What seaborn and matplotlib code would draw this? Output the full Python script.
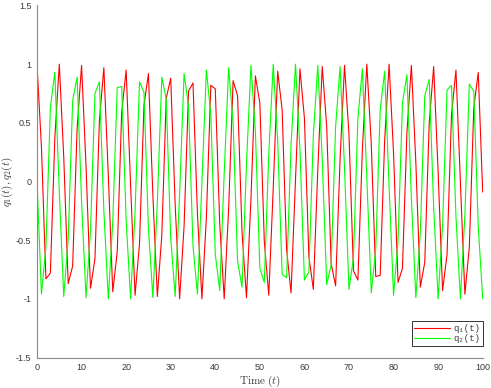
import numpy as np
import pandas as pd
import matplotlib
matplotlib.use("Agg")
import matplotlib.pyplot as plt
import seaborn as sns
from matplotlib.lines import Line2D

# ---- data ----
t = list(range(0, 101))
q1 = [1.00, 0.29, -0.83, -0.78, 0.37, 1.00, 0.21, -0.87, -0.72, 0.45,
      0.99, 0.13, -0.91, -0.66, 0.52, 0.97, 0.05, -0.94, -0.60, 0.59,
      0.95, -0.03, -0.97, -0.53, 0.65, 0.92, -0.12, -0.98, -0.46, 0.71,
      0.88, -0.20, -1.00, -0.38, 0.77, 0.84, -0.28, -1.00, -0.31, 0.82,
      0.79, -0.36, -1.00, -0.23, 0.86, 0.73, -0.43, -0.99, -0.15, 0.90,
      0.67, -0.51, -0.97, -0.06, 0.94, 0.61, -0.58, -0.95, 0.02, 0.96,
      0.54, -0.64, -0.92, 0.10, 0.98, 0.47, -0.70, -0.89, 0.19, 0.99,
      0.40, -0.76, -0.84, 0.27, 1.00, 0.32, -0.81, -0.80, 0.35, 1.00,
      0.24, -0.86, -0.74, 0.42, 0.99, 0.16, -0.90, -0.69, 0.50, 0.98,
      0.08, -0.93, -0.62, 0.57, 0.95, -0.01, -0.96, -0.56, 0.63, 0.93,
      -0.09]
q2 = [0.00, -0.96, -0.56, 0.63, 0.93, -0.08, -0.98, -0.49, 0.69, 0.89,
      -0.17, -0.99, -0.42, 0.75, 0.85, -0.25, -1.00, -0.34, 0.80, 0.81,
      -0.33, -1.00, -0.26, 0.85, 0.76, -0.40, -0.99, -0.18, 0.89, 0.70,
      -0.48, -0.98, -0.10, 0.92, 0.64, -0.55, -0.96, -0.01, 0.95, 0.57,
      -0.62, -0.93, 0.07, 0.97, 0.50, -0.68, -0.90, 0.15, 0.99, 0.43,
      -0.74, -0.86, 0.23, 1.00, 0.35, -0.79, -0.82, 0.31, 1.00, 0.27,
      -0.84, -0.77, 0.39, 0.99, 0.19, -0.88, -0.71, 0.47, 0.98, 0.11,
      -0.92, -0.65, 0.54, 0.96, 0.03, -0.95, -0.58, 0.61, 0.94, -0.05,
      -0.97, -0.51, 0.67, 0.91, -0.14, -0.99, -0.44, 0.73, 0.87, -0.22,
      -1.00, -0.37, 0.78, 0.82, -0.30, -1.00, -0.29, 0.83, 0.77, -0.38,
      -1.00]
series_names = ["q1", "q2"]
series_labels = ["q\u2081(t)", "q\u2082(t)"]
colors = {"q1": "#ff0000", "q2": "#00ff00"}
xticks = list(range(0, 101, 10))
yticks = [-1.5, -1, -0.5, 0, 0.5, 1, 1.5]
ytick_labels = ["-1.5", "-1", "-0.5", "0", "0.5", "1", "1.5"]

df = pd.concat([
    pd.DataFrame({"t": t, "value": q1, "series": "q1"}),
    pd.DataFrame({"t": t, "value": q2, "series": "q2"}),
], ignore_index=True)

sns.set_style("white")
plt.rcParams["font.family"] = ["Liberation Sans", "DejaVu Sans"]
plt.rcParams["mathtext.fontset"] = "cm"

W, H = 491, 388
top_px, bot_px, left_px, right_px = 5.5, 357.5, 37, 482.7
fig = plt.figure(figsize=(W / 100, H / 100), dpi=100)
fig.patch.set_facecolor("white")
ax = fig.add_axes([left_px / W, 1 - bot_px / H, (right_px - left_px) / W,
                   (bot_px - top_px) / H])

sns.lineplot(data=df, x="t", y="value", hue="series", palette=colors,
             hue_order=series_names, estimator=None, sort=False,
             linewidth=0.8, ax=ax, legend=False)

ax.set_xlim(0, 100)
ax.set_ylim(-1.5, 1.5)
ax.set_xticks(xticks)
ax.set_xticklabels([str(x) for x in xticks])
ax.set_yticks(yticks)
ax.set_yticklabels(ytick_labels)

axis_col = "#8a8a8a"
text_col = "#3a3a3a"
for s in ["top", "right"]:
    ax.spines[s].set_visible(False)
for s in ["left", "bottom"]:
    ax.spines[s].set_color(axis_col)
    ax.spines[s].set_linewidth(0.8)
ax.tick_params(direction="in", length=4, width=0.8, color=axis_col,
               labelsize=6.5, labelcolor=text_col, pad=4)

ax.set_xlabel(r"$\mathrm{Time}\ (t)$", fontsize=8, color=text_col, labelpad=1)
ax.set_ylabel(r"$q_1(t), q_2(t)$", fontsize=8, color=text_col, labelpad=1)

handles = [Line2D([], [], color=colors[n], linewidth=0.8) for n in series_names]
leg = ax.legend(handles, series_labels, loc="lower right",
                bbox_to_anchor=(1.0, (bot_px - 346) / (bot_px - top_px)),
                borderaxespad=0,
                prop={"family": ["Liberation Mono", "DejaVu Sans Mono"],
                      "size": 6.5},
                handlelength=3.9, handletextpad=0.4,
                labelspacing=0.15, borderpad=0.3,
                fancybox=False, framealpha=1, edgecolor="#333333")
leg.get_frame().set_linewidth(0.7)
for txt in leg.get_texts():
    txt.set_color(text_col)

fig.savefig("out.png", dpi=100, facecolor="white")
